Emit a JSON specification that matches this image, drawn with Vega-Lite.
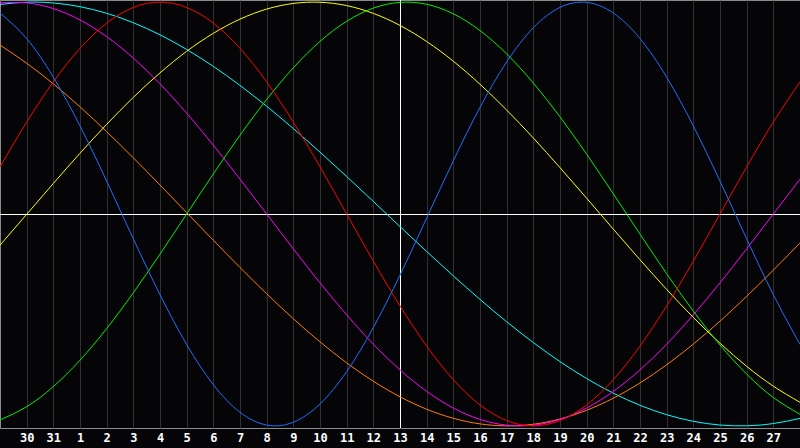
{
  "$schema": "https://vega.github.io/schema/vega-lite/v6.json",
  "width": 800,
  "height": 428,
  "autosize": {"type": "none"},
  "padding": {"left": 0, "top": 0, "right": 0, "bottom": 20},
  "background": "#050508",
  "config": {
    "view": {"stroke": "#8c8c8c", "fill": "#050508"},
    "axisX": {
      "domain": false,
      "ticks": false,
      "grid": true,
      "gridColor": "#303030",
      "gridOpacity": 1,
      "gridWidth": 1,
      "labelColor": "#ffffff",
      "labelFont": "DejaVu Sans Mono",
      "labelFontWeight": "bold",
      "labelFontSize": 12,
      "labelPadding": 4,
      "labelFlush": false,
      "labelOverlap": false,
      "title": null
    }
  },
  "layer": [
    {
      "data": {"values": [{"v": 0}]},
      "mark": {"type": "rule", "color": "#ffffff", "strokeWidth": 1, "yOffset": 0.5},
      "encoding": {
        "y": {"field": "v", "type": "quantitative", "scale": {"domain": [-1.01, 1.01], "nice": false, "zero": false}, "axis": null}
      }
    },
    {
      "data": {"values": [{"d": 15}]},
      "mark": {"type": "rule", "color": "#ffffff", "strokeWidth": 1, "xOffset": 0.5},
      "encoding": {
        "x": {"field": "d", "type": "quantitative", "scale": {"domain": [0, 30], "nice": false, "zero": false},
          "axis": {"values": [1,2,3,4,5,6,7,8,9,10,11,12,13,14,15,16,17,18,19,20,21,22,23,24,25,26,27,28,29], "labelExpr": "datum.value <= 2 ? datum.value + 29 : datum.value - 2"}}
      }
    },
    {
      "data": {"values": [
        {"d": 0, "P": 0.9485, "E": 0.2225, "I": -0.9718, "N": 0.9966, "A": -0.1471, "W": 0.7973, "S": 0.9890},
        {"d": 1, "P": 0.8279, "E": 0.4339, "I": -0.9096, "N": 0.9966, "A": -0.0016, "W": 0.7117, "S": 0.9996},
        {"d": 2, "P": 0.6458, "E": 0.6235, "I": -0.8146, "N": 0.9694, "A": 0.1440, "W": 0.6140, "S": 0.9961},
        {"d": 3, "P": 0.4159, "E": 0.7818, "I": -0.6901, "N": 0.9158, "A": 0.2867, "W": 0.5057, "S": 0.9785},
        {"d": 4, "P": 0.1551, "E": 0.9010, "I": -0.5407, "N": 0.8372, "A": 0.4231, "W": 0.3887, "S": 0.9473},
        {"d": 5, "P": -0.1172, "E": 0.9749, "I": -0.3717, "N": 0.7357, "A": 0.5505, "W": 0.2651, "S": 0.9028},
        {"d": 6, "P": -0.3807, "E": 1.0, "I": -0.1893, "N": 0.6142, "A": 0.6661, "W": 0.1370, "S": 0.8457},
        {"d": 7, "P": -0.6159, "E": 0.9749, "I": 0.0, "N": 0.4759, "A": 0.7679, "W": 0.0065, "S": 0.7767},
        {"d": 8, "P": -0.8057, "E": 0.9010, "I": 0.1893, "N": 0.3247, "A": 0.8528, "W": -0.1240, "S": 0.6967},
        {"d": 9, "P": -0.9357, "E": 0.7818, "I": 0.3717, "N": 0.1646, "A": 0.9197, "W": -0.2525, "S": 0.6067},
        {"d": 10, "P": -0.9962, "E": 0.6235, "I": 0.5407, "N": 0.0, "A": 0.9671, "W": -0.3766, "S": 0.5086},
        {"d": 11, "P": -0.9828, "E": 0.4339, "I": 0.6901, "N": -0.1646, "A": 0.9938, "W": -0.4943, "S": 0.4031},
        {"d": 12, "P": -0.8965, "E": 0.2225, "I": 0.8146, "N": -0.3247, "A": 0.9994, "W": -0.6035, "S": 0.2920},
        {"d": 13, "P": -0.7439, "E": 0.0, "I": 0.9096, "N": -0.4759, "A": 0.9836, "W": -0.7025, "S": 0.1769},
        {"d": 14, "P": -0.5358, "E": -0.2225, "I": 0.9718, "N": -0.6142, "A": 0.9469, "W": -0.7893, "S": 0.0593},
        {"d": 15, "P": -0.2882, "E": -0.4339, "I": 0.9989, "N": -0.7357, "A": 0.8900, "W": -0.8627, "S": -0.0593},
        {"d": 16, "P": -0.0192, "E": -0.6235, "I": 0.9898, "N": -0.8372, "A": 0.8142, "W": -0.9214, "S": -0.1769},
        {"d": 17, "P": 0.2514, "E": -0.7818, "I": 0.9450, "N": -0.9158, "A": 0.7211, "W": -0.9642, "S": -0.2920},
        {"d": 18, "P": 0.5032, "E": -0.9010, "I": 0.8660, "N": -0.9694, "A": 0.6124, "W": -0.9906, "S": -0.4031},
        {"d": 19, "P": 0.7176, "E": -0.9749, "I": 0.7557, "N": -0.9966, "A": 0.4908, "W": -1.0, "S": -0.5086},
        {"d": 20, "P": 0.8789, "E": -1.0, "I": 0.6181, "N": -0.9966, "A": 0.3587, "W": -0.9923, "S": -0.6067},
        {"d": 21, "P": 0.9750, "E": -0.9749, "I": 0.4582, "N": -0.9694, "A": 0.2188, "W": -0.9676, "S": -0.6967},
        {"d": 22, "P": 0.9988, "E": -0.9010, "I": 0.2818, "N": -0.9158, "A": 0.0745, "W": -0.9264, "S": -0.7767},
        {"d": 23, "P": 0.9485, "E": -0.7818, "I": 0.0951, "N": -0.8372, "A": -0.0715, "W": -0.8693, "S": -0.8457},
        {"d": 24, "P": 0.8279, "E": -0.6235, "I": -0.0950, "N": -0.7357, "A": -0.2159, "W": -0.7973, "S": -0.9028},
        {"d": 25, "P": 0.6458, "E": -0.4339, "I": -0.2817, "N": -0.6142, "A": -0.3559, "W": -0.7117, "S": -0.9473},
        {"d": 26, "P": 0.4159, "E": -0.2225, "I": -0.4582, "N": -0.4759, "A": -0.4882, "W": -0.6140, "S": -0.9785},
        {"d": 27, "P": 0.1551, "E": 0.0, "I": -0.6181, "N": -0.3247, "A": -0.6100, "W": -0.5057, "S": -0.9961},
        {"d": 28, "P": -0.1172, "E": 0.2225, "I": -0.7557, "N": -0.1646, "A": -0.7189, "W": -0.3887, "S": -0.9996},
        {"d": 29, "P": -0.3807, "E": 0.4339, "I": -0.8660, "N": 0.0, "A": -0.8126, "W": -0.2651, "S": -0.9890},
        {"d": 30, "P": -0.6159, "E": 0.6235, "I": -0.9450, "N": 0.1646, "A": -0.8887, "W": -0.1370, "S": -0.9647}
      ]},
      "transform": [{"fold": ["S", "W", "A", "N", "I", "E", "P"], "as": ["cycle", "value"]}],
      "mark": {"type": "line", "strokeWidth": 1, "interpolate": "natural", "clip": true},
      "encoding": {
        "x": {"field": "d", "type": "quantitative", "scale": {"domain": [0, 30], "nice": false, "zero": false},
          "axis": {"values": [1,2,3,4,5,6,7,8,9,10,11,12,13,14,15,16,17,18,19,20,21,22,23,24,25,26,27,28,29], "labelExpr": "datum.value <= 2 ? datum.value + 29 : datum.value - 2"}},
        "y": {"field": "value", "type": "quantitative", "scale": {"domain": [-1.01, 1.01], "nice": false, "zero": false}, "axis": null},
        "color": {"field": "cycle", "type": "nominal",
          "scale": {"domain": ["P", "E", "I", "N", "A", "W", "S"], "range": ["#1f6fff", "#ff0000", "#00f000", "#ff00ff", "#ffff00", "#ff8000", "#00ffff"]},
          "legend": null},
        "order": {"field": "cycle"}
      }
    }
  ]
}
